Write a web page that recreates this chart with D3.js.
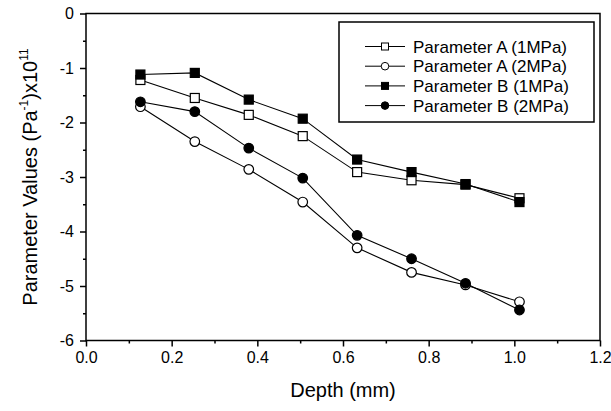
<!DOCTYPE html>
<html>
<head>
<meta charset="utf-8">
<script src="https://cdn.jsdelivr.net/npm/d3@7"></script>
<style>
  body { margin: 0; background: #fff; }
  svg { display: block; font-family: "Liberation Sans", Arial, sans-serif; }
</style>
</head>
<body>
<svg id="chart" width="611" height="411"></svg>
<script>
const depth = [0.127, 0.254, 0.380, 0.506, 0.633, 0.760, 0.886, 1.012];
const paramA1 = [-1.22, -1.55, -1.86, -2.25, -2.91, -3.06, -3.14, -3.39];
const paramA2 = [-1.71, -2.35, -2.86, -3.46, -4.30, -4.75, -4.98, -5.29];
const paramB1 = [-1.12, -1.09, -1.58, -1.93, -2.68, -2.91, -3.13, -3.46];
const paramB2 = [-1.62, -1.80, -2.47, -3.02, -4.07, -4.50, -4.95, -5.44];
const seriesNames = ["Parameter A (1MPa)", "Parameter A (2MPa)", "Parameter B (1MPa)", "Parameter B (2MPa)"];
const xTicks = [0.0, 0.2, 0.4, 0.6, 0.8, 1.0, 1.2];
const yTicks = [0, -1, -2, -3, -4, -5, -6];

const series = [
  {name: seriesNames[0], values: paramA1, shape: "square", filled: false},
  {name: seriesNames[1], values: paramA2, shape: "circle", filled: false},
  {name: seriesNames[2], values: paramB1, shape: "square", filled: true},
  {name: seriesNames[3], values: paramB2, shape: "circle", filled: true}
];

const svg = d3.select("#chart");
const L = 86, R = 600, T = 13.5, B = 340.5;
const x = d3.scaleLinear().domain([0, 1.2]).range([L, R]);
const y = d3.scaleLinear().domain([-6, 0]).range([B, T]);

// frame
svg.append("rect").attr("x", L).attr("y", T).attr("width", R - L).attr("height", B - T)
  .attr("fill", "none").attr("stroke", "#000").attr("stroke-width", 1.5);

// x axis
const xAxis = d3.axisBottom(x).tickValues(xTicks).tickFormat(d3.format(".1f")).tickSize(6).tickPadding(5);
const gx = svg.append("g").attr("transform", `translate(0,${B})`).call(xAxis);
gx.select(".domain").remove();
gx.selectAll(".tick line").attr("stroke-width", 1.5);
gx.selectAll("text").attr("font-size", 16).attr("fill", "#000");
const xMinor = d3.axisBottom(x).tickValues(d3.range(0.1, 1.2, 0.2)).tickFormat("").tickSize(3);
const gxm = svg.append("g").attr("transform", `translate(0,${B})`).call(xMinor);
gxm.select(".domain").remove();
gxm.selectAll(".tick line").attr("stroke-width", 1.5);

// y axis
const yAxis = d3.axisLeft(y).tickValues(yTicks).tickFormat(d => String(d)).tickSize(6).tickPadding(6);
const gy = svg.append("g").attr("transform", `translate(${L},0)`).call(yAxis);
gy.select(".domain").remove();
gy.selectAll(".tick line").attr("stroke-width", 1.5);
gy.selectAll("text").attr("font-size", 16).attr("fill", "#000");
const yMinor = d3.axisLeft(y).tickValues(d3.range(-5.5, 0, 1)).tickFormat("").tickSize(3);
const gym = svg.append("g").attr("transform", `translate(${L},0)`).call(yMinor);
gym.select(".domain").remove();
gym.selectAll(".tick line").attr("stroke-width", 1.5);

// axis titles
svg.append("text").attr("x", 343).attr("y", 397).attr("text-anchor", "middle")
  .attr("font-size", 20).text("Depth (mm)");
const yt = svg.append("text").attr("transform", `translate(37,${(T + B) / 2}) rotate(-90)`)
  .attr("text-anchor", "middle").attr("font-size", 20);
yt.append("tspan").text("Parameter Values (Pa");
yt.append("tspan").attr("font-size", 12).attr("dy", -9).text("-1");
yt.append("tspan").attr("dy", 9).text(")x10");
yt.append("tspan").attr("font-size", 12).attr("dy", -9).text("11");

// lines & markers
const line = d3.line().x((d, i) => x(depth[i])).y(d => y(d));
function drawMarker(g, shape, filled, cx, cy) {
  if (shape === "square") {
    g.append("rect").attr("x", cx - 4.5).attr("y", cy - 4.5).attr("width", 9).attr("height", 9)
      .attr("fill", filled ? "#000" : "#fff").attr("stroke", "#000").attr("stroke-width", 1.2);
  } else {
    g.append("circle").attr("cx", cx).attr("cy", cy).attr("r", 4.8)
      .attr("fill", filled ? "#000" : "#fff").attr("stroke", "#000").attr("stroke-width", 1.2);
  }
}
series.forEach(s => {
  svg.append("path").attr("d", line(s.values)).attr("fill", "none").attr("stroke", "#000").attr("stroke-width", 1.1);
});
series.forEach(s => {
  const g = svg.append("g");
  s.values.forEach((v, i) => drawMarker(g, s.shape, s.filled, x(depth[i]), y(v)));
});

// legend
svg.append("rect").attr("x", 339).attr("y", 22).attr("width", 255).attr("height", 100)
  .attr("fill", "#fff").attr("stroke", "#000").attr("stroke-width", 1.5);
series.forEach((s, i) => {
  const ly = 46.5 + i * 19.7;
  const g = svg.append("g");
  g.append("line").attr("x1", 365).attr("x2", 405).attr("y1", ly).attr("y2", ly)
    .attr("stroke", "#000").attr("stroke-width", 1);
  if (s.shape === "square") {
    g.append("rect").attr("x", 381.5).attr("y", ly - 3.5).attr("width", 7).attr("height", 7)
      .attr("fill", s.filled ? "#000" : "#fff").attr("stroke", "#000").attr("stroke-width", 1);
  } else {
    g.append("circle").attr("cx", 385).attr("cy", ly).attr("r", 3.8)
      .attr("fill", s.filled ? "#000" : "#fff").attr("stroke", "#000").attr("stroke-width", 1);
  }
  g.append("text").attr("x", 413).attr("y", ly + 6).attr("font-size", 17).text(s.name);
});
</script>
</body>
</html>
